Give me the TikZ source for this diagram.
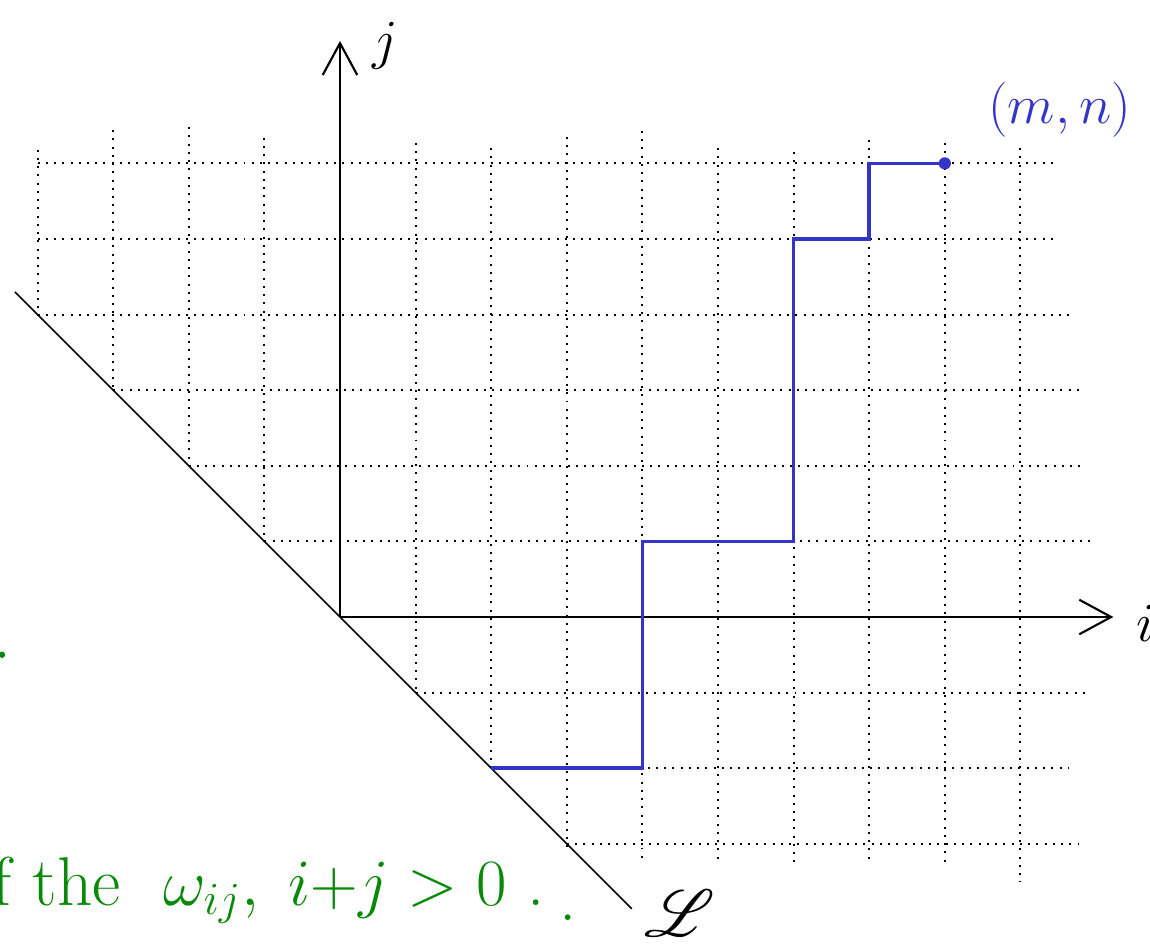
\documentclass[tikz,border=0pt]{standalone}
\usepackage{amsmath, amssymb, mathrsfs}
\usetikzlibrary{arrows.meta}
\definecolor{pathblue}{HTML}{3434C8}
\definecolor{notegreen}{HTML}{088A08}

\begin{document}
\begin{tikzpicture}[
      gridline/.style={line width=0.75pt, dash pattern=on 0.75pt off 2.35pt},
      axis/.style={line width=0.8pt, -{Straight Barb[length=12pt, width=13pt, line width=0.8pt]}},
      lattice/.style={draw=pathblue, line width=1.3pt},
      handlabel/.style={font=\fontsize{#1}{#1}\selectfont, inner sep=0pt},
      handlabel/.default=20
  ]
    \useasboundingbox (-4.497,-4.431) rectangle (10.714,8.161);

    % dotted grid (horizontal: y/from/to, vertical: x/top/bottom)
    \foreach \y/\xa/\xb in {6/-4/9.46, 5/-4/9.46, 4/-4/9.66, 3/-3/9.85, 2/-2/9.85, 1/-1/9.92, -1/1/9.85, -2/2/9.63, -3/3/9.85}
      \draw[gridline] (\xa,\y) -- (\xb,\y);
    \foreach \x/\ya/\yb in {-4/6.18/4, -3/6.44/3, -2/6.48/2, -1/6.34/1, 1/6.27/-1, 2/6.2/-2, 3/6.35/-3.05, 4/6.43/-3.24, 5/6.2/-3.2, 6/6.15/-3.24, 7/6.31/-3.24, 8/6.27/-3.24, 9/6.2/-3.5}
      \draw[gridline] (\x,\ya) -- (\x,\yb);

    % axes and the line L
    \coordinate (O) at (0,0);
    \coordinate (iend) at (10.23,0);
    \coordinate (jend) at (0,7.62);
    \coordinate (Ltop) at (-4.3,4.3);
    \coordinate (Lbot) at (3.86,-3.86);
    \draw[axis] (O) -- (iend);
    \draw[axis] (O) -- (jend);
    \draw[line width=0.6pt] (Ltop) -- (Lbot);

    % lattice path up to (m,n)
    \coordinate (start) at (2,-2);
    \coordinate (mn) at (8,6);
    \draw[lattice] (start) -- (4,-2) -- (4,1) -- (6,1) -- (6,5) -- (7,5) -- (7,6) -- (mn);
    \fill[pathblue] (mn) circle (2.3pt);

    \node[handlabel] (jlabel) at (0.6,7.55) {$j$};
    \node[handlabel] (ilabel) at (10.66,-0.08) {$i$};
    \node[handlabel=22, pathblue] (mnlabel) at (9.52,6.71) {$(m,n)$};
    \node[handlabel=36] (Llabel) at (4.5,-3.92) {$\mathscr{L}$};
    \node[handlabel=26, notegreen, anchor=base west] (note) at (-4.6,-3.81)
      {f the\hspace{0.62em}$\omega_{ij},\; i{+}j>0$\hspace{0.31em}.\hspace{0.21em}\raisebox{-6pt}{.}};
    \fill[notegreen] (-4.47,-0.5) circle (1.2pt);
  \end{tikzpicture}
\end{document}
